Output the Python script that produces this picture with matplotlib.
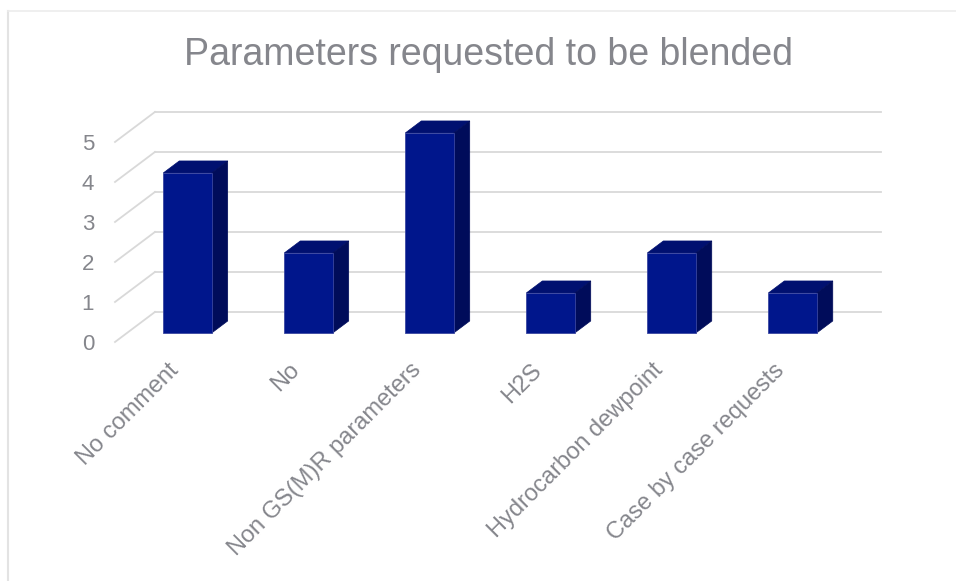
import matplotlib.pyplot as plt
from matplotlib.patches import Polygon
from matplotlib.lines import Line2D

plt.rcParams['font.family'] = ['Liberation Sans', 'DejaVu Sans']

# ── data ──────────────────────────────────────────────────────────────────────
categories = ["No comment", "No", "Non GS(M)R parameters", "H2S",
              "Hydrocarbon dewpoint", "Case by case requests"]
counts = [4, 2, 5, 1, 2, 1]
y_ticks = [0, 1, 2, 3, 4, 5]
title = "Parameters requested to be blended"

# ── fake 3D projection: depth d in [0, 1] shifts right/up ────────────────────
DX, DY = 0.33, 0.75          # full depth offset in (category, value) units
BAR_W = 0.4
D0, D1 = 0.3, 0.7            # bar sits between these depth fractions

FRONT = "#00168c"
SIDE = "#000c5a"
TOP = "#001070"
GRID = "#d9d9d9"
TXT = "#85868c"

def proj(x, v, d):
    return (x + d * DX, v + d * DY)

fig = plt.figure(figsize=(9.56, 5.81), dpi=100)
ax = fig.add_axes([0.1203, 0.4114, 0.8013, 0.3959])
ax.set_xlim(-0.5, len(categories) - 0.5 + DX)
ax.set_ylim(0, max(y_ticks) + DY)
ax.patch.set_visible(False)
for s in ax.spines.values():
    s.set_visible(False)

# back wall gridlines + left wall diagonals
x_left = -0.5
x_right = len(categories) - 0.5 + DX
for v in y_ticks:
    bx, by = proj(x_left, v, 1)
    ax.add_line(Line2D([bx, x_right], [by, by], color=GRID, lw=1.3,
                       clip_on=False, zorder=1))
    fx, fy = proj(x_left, v, 0)
    ax.add_line(Line2D([fx, bx], [fy, by], color=GRID, lw=1.3,
                       clip_on=False, zorder=1))

# bars: top, side, front
for i, val in enumerate(counts):
    xl, xr = i - BAR_W / 2, i + BAR_W / 2
    front = [proj(xl, 0, D0), proj(xr, 0, D0), proj(xr, val, D0), proj(xl, val, D0)]
    side = [proj(xr, 0, D0), proj(xr, 0, D1), proj(xr, val, D1), proj(xr, val, D0)]
    top = [proj(xl, val, D0), proj(xr, val, D0), proj(xr, val, D1), proj(xl, val, D1)]
    ax.add_patch(Polygon(top, closed=True, fc=TOP, ec=TOP, lw=0.5, zorder=3, clip_on=False))
    ax.add_patch(Polygon(side, closed=True, fc=SIDE, ec=SIDE, lw=0.5, zorder=3, clip_on=False))
    ax.add_patch(Polygon(front, closed=True, fc=FRONT, ec="#3a46a0", lw=0.6, zorder=4, clip_on=False))

# axes ticks
ax.set_yticks(y_ticks)
ax.set_yticklabels([str(t) for t in y_ticks], fontsize=16, color=TXT)
ax.tick_params(axis='y', length=0, pad=15)

# category labels on the front plane
ax.set_xticks(range(len(categories)))
ax.set_xticklabels(categories, rotation=45, ha='right', va='center',
                   rotation_mode='anchor', fontsize=17, color=TXT)
ax.tick_params(axis='x', length=0, pad=18)

fig.text(0.511, 0.905, title, ha='center', va='center', fontsize=27, color=TXT)

# chart frame (left + top edge)
fig.add_artist(Line2D([7.5 / 956, 7.5 / 956], [0, 1 - 11 / 581],
                      transform=fig.transFigure, color="#e3e3e3", lw=1.5))
fig.add_artist(Line2D([7.5 / 956, 1], [1 - 11 / 581, 1 - 11 / 581],
                      transform=fig.transFigure, color="#ececec", lw=1.2))

fig.savefig("out.png", dpi=100)
